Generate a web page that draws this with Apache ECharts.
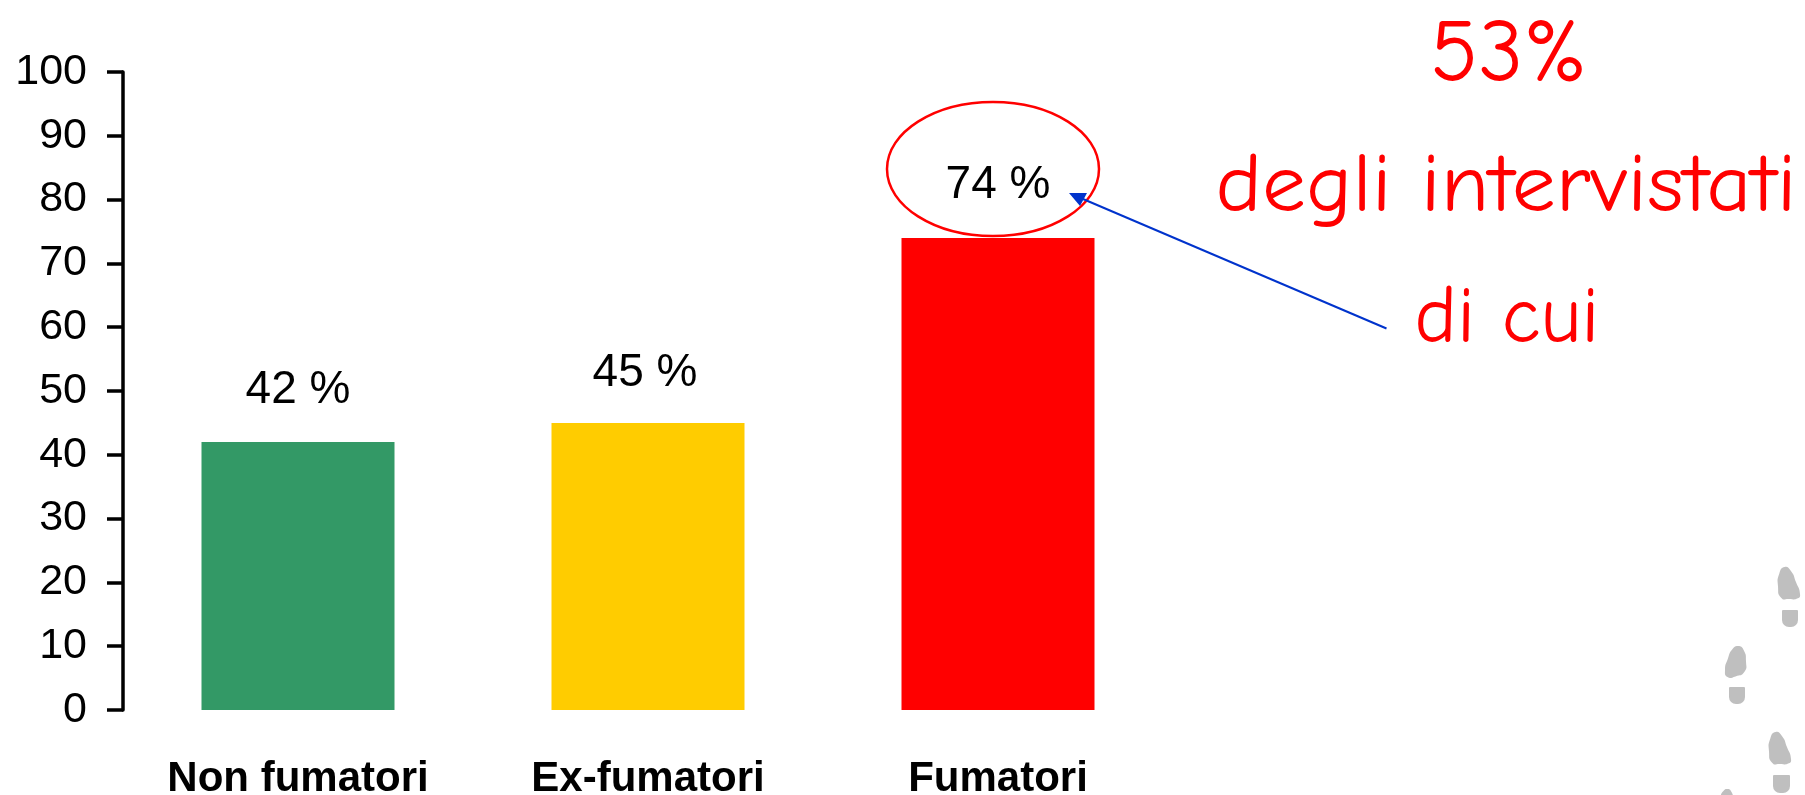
<!DOCTYPE html>
<html><head><meta charset="utf-8">
<style>html,body{margin:0;padding:0;background:#fff}#c{width:1805px;height:795px}</style>
<script src="https://cdn.jsdelivr.net/npm/echarts@6/dist/echarts.min.js"></script>
</head><body><div id="c"></div>
<script>
const categories = ['Non fumatori', 'Ex-fumatori', 'Fumatori'];
const values = [42, 45, 74];
const barColors = ['#339966', '#FFCC00', '#FF0000'];
const notes = ['53%', 'degli intervistati', 'di cui'];
const labelOffsets = [[0,0], [-3,2], [0,-1]];

const handFont = '"Comic Sans MS","Comic Neue",Lato,"Noto Sans",sans-serif';
const soleR = [[30,0],[58,12],[82,48],[100,84],[90,98],[50,100],[14,96],[0,60],[6,20]];
const soleL = [[62,0],[88,12],[100,50],[92,84],[50,98],[12,100],[0,78],[14,40],[36,10]];
const sole = (pts, x, y, w, h) => ({type:'polygon', shape:{smooth:0.6, points:pts.map(p=>[x+p[0]*w/100, y+p[1]*h/100])}, style:{fill:'#bfbfbf'}, silent:true});
const heel = (x, y, w, h) => ({type:'rect', shape:{x, y, width:w, height:h, r:[1,1,7,7]}, style:{fill:'#bfbfbf'}, silent:true});
const note = (text, x, y, size, sx) => ({type:'text', x, y, scaleX:sx||1, style:{text, fill:'#ff0000', font:`${size}px ${handFont}`, textAlign:'center', textVerticalAlign:'middle'}, silent:true});

const chart = echarts.init(document.getElementById('c'), null, {renderer:'canvas'});
chart.setOption({
  animation:false,
  backgroundColor:'#ffffff',
  grid:{left:123, right:632, top:72, bottom:85, containLabel:false, outerBoundsMode:'none'},
  xAxis:{type:'category', data:categories,
    axisLine:{show:false}, axisTick:{show:false},
    axisLabel:{color:'#000', fontFamily:'"Liberation Sans",Arial,sans-serif', fontWeight:'bold', fontSize:42, margin:48, interval:0}},
  yAxis:{type:'value', min:0, max:100, interval:10, splitLine:{show:false},
    axisLine:{show:true, lineStyle:{color:'#000', width:3.5}},
    axisTick:{show:true, length:16, lineStyle:{color:'#000', width:3.5}},
    axisLabel:{color:'#000', fontFamily:'"Liberation Sans",Arial,sans-serif', fontSize:43, margin:36, padding:[0,0,8,0]}},
  series:[{type:'bar', barWidth:193,
    data:values.map((v,i)=>({value:v, itemStyle:{color:barColors[i]}, label:{offset:labelOffsets[i]}})),
    label:{show:true, position:'top', distance:29, formatter:'{c} %', color:'#000', fontFamily:'"Liberation Sans",Arial,sans-serif', fontSize:46}}],
  graphic:{elements:[
    {type:'ellipse', shape:{cx:993, cy:169, rx:106, ry:67}, style:{fill:null, stroke:'#ff0000', lineWidth:2.5}, silent:true},
    {type:'line', shape:{x1:1386.5, y1:328.5, x2:1083, y2:199}, style:{stroke:'#0033cc', lineWidth:2}, silent:true},
    {type:'polygon', shape:{points:[[1069,193],[1087,193],[1080,206]]}, style:{fill:'#0033cc'}, silent:true},
    note(notes[0], 1509, 56, 89),
    note(notes[1], 1506, 188, 82, 1.07),
    note(notes[2], 1507, 319, 80),
    sole(soleR,1778,567,22,32), heel(1782,610,16,17),
    sole(soleL,1725,646,21,31), heel(1729,687,16,17),
    sole(soleR,1769,732,22,32), heel(1773,775,17,18),
    sole(soleL,1718,789,15,20)
  ]}
});
</script></body></html>
